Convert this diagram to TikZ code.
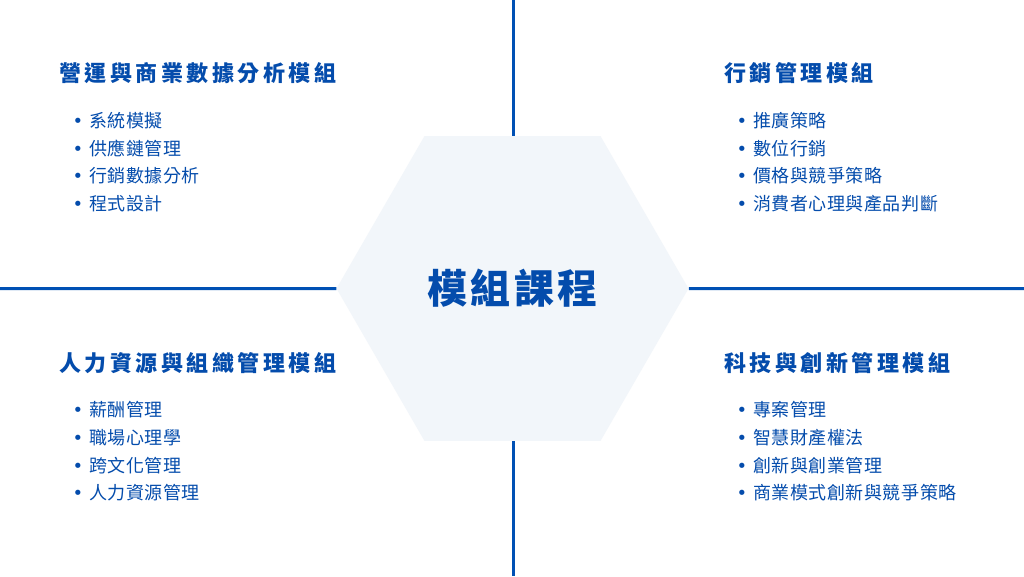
\documentclass[tikz,border=0pt]{standalone}
\usepackage{fontspec}
\usepackage{tikz}
\usetikzlibrary{shapes.geometric, positioning}
\definecolor{modblue}{RGB}{4, 76, 172}
\definecolor{lineblue}{RGB}{0, 80, 180}
\definecolor{hexfill}{RGB}{242, 246, 250}
\newfontfamily\cjkhead{Noto Sans CJK TC}[LetterSpace=16]
\newfontfamily\cjkitem{Noto Sans CJK TC}[LetterSpace=3]
\newfontfamily\cjkcore{Noto Sans CJK TC}[LetterSpace=9]
\newfontfamily\dotfont{DejaVu Sans}
\newcommand{\dotitem}[1]{\makebox[16.5pt][l]{\dotfont •}#1}

\begin{document}
\begin{tikzpicture}[x=1pt, y=-1pt,
  modtitle/.style={anchor=west, inner sep=0pt, text=modblue,
                   font=\cjkhead\bfseries\fontsize{22}{22}\selectfont},
  moditem/.style={anchor=west, inner sep=0pt, text=modblue,
                  font=\cjkitem\fontsize{18}{18}\selectfont},
  divider/.style={draw=lineblue, line width=3pt}]

  \useasboundingbox[fill=white] (0,0) rectangle (1024,576);

  % Centre hexagon
  \node[regular polygon, regular polygon sides=6, minimum size=352pt,
        inner sep=0pt, fill=hexfill, text=modblue,
        font=\cjkcore\bfseries\fontsize{40}{40}\selectfont]
        (core) at (512.5,288.5) {模組課程};

  % Dividers
  \coordinate (topedge) at (513,0);
  \coordinate (bottomedge) at (513,576);
  \coordinate (leftedge) at (0,288.5);
  \coordinate (rightedge) at (1024,288.5);
  \draw[divider] (topedge) -- (topedge |- core.north);
  \draw[divider] (bottomedge |- core.south) -- (bottomedge);
  \draw[divider] (leftedge) -- (core.west);
  \draw[divider] (core.east) -- (rightedge);

  % Upper left: operations
  \node[modtitle] (opsTitle) at (59,73) {營運與商業數據分析模組};
  \foreach \txt [count=\i] in {系統模擬, 供應鏈管理, 行銷數據分析, 程式設計}
    \node[moditem] (ops\i) at (72.5, 92.8+27.7*\i) {\dotitem{\txt}};

  % Upper right: marketing
  \node[modtitle] (mktTitle) at (724,73) {行銷管理模組};
  \foreach \txt [count=\i] in {推廣策略, 數位行銷, 價格與競爭策略, 消費者心理與產品判斷}
    \node[moditem] (mkt\i) at (736.5, 92.8+27.7*\i) {\dotitem{\txt}};

  % Lower left: people
  \node[modtitle] (hrTitle) at (59,363) {人力資源與組織管理模組};
  \foreach \txt [count=\i] in {薪酬管理, 職場心理學, 跨文化管理, 人力資源管理}
    \node[moditem] (hr\i) at (72.5, 382.3+27.7*\i) {\dotitem{\txt}};

  % Lower right: technology
  \node[modtitle] (techTitle) at (724,363) {科技與創新管理模組};
  \foreach \txt [count=\i] in {專案管理, 智慧財產權法, 創新與創業管理, 商業模式創新與競爭策略}
    \node[moditem] (tech\i) at (736.5, 382.3+27.7*\i) {\dotitem{\txt}};
\end{tikzpicture}
\end{document}
